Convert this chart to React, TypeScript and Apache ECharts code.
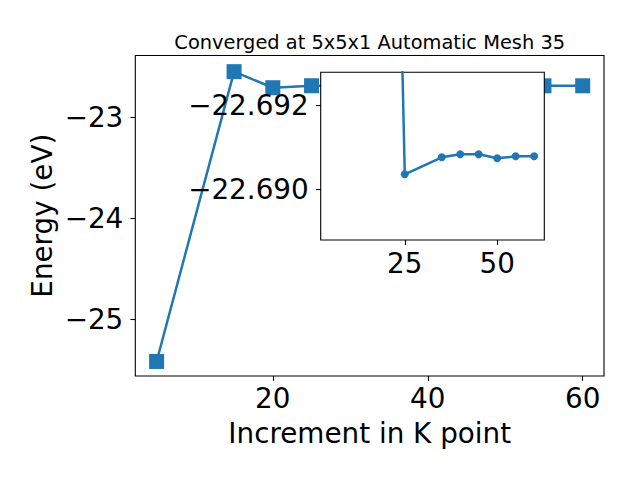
import React, { useEffect, useRef } from "react";
import * as echarts from "echarts";

// K-point increments and total energies (eV)
const kPoints = [5, 15, 20, 25, 35, 40, 45, 50, 55, 60];
const energies = [
  -25.42, -22.551, -22.71, -22.690356, -22.690759, -22.69083, -22.69083,
  -22.690735, -22.690783, -22.690783,
];
// inset shows the converged tail (from 20 on)
const insetStart = 2;

const mainXTicks = [20, 40, 60];
const mainYTicks = [-25, -24, -23];
const insetXTicks = [25, 50];
const insetYTicks = [-22.692, -22.69];

const titleText = "Converged at 5x5x1 Automatic Mesh 35";
const xName = "Increment in K point";
const yName = "Energy (eV)";

const BLUE = "#1f77b4";
const FONT = "DejaVu Sans";

const minus = (s: string) => s.replace("-", "\u2212");

export default function App() {
  const ref = useRef<HTMLDivElement>(null);
  useEffect(() => {
    if (!ref.current) return;
    const chart = echarts.init(ref.current, null, { renderer: "svg" });
    const mainData = kPoints.map((x, i) => [x, energies[i]]);
    const insetData = kPoints
      .slice(insetStart)
      .map((x, i) => [x, energies[i + insetStart]]);
    const tickStyle = { color: "#000", width: 1.1 };
    const labelBase = {
      color: "#000",
      fontFamily: FONT,
      fontSize: 27.8,
    };
    chart.setOption({
      animation: false,
      backgroundColor: "#fff",
      grid: [
        {
          left: 135.3,
          top: 55.5,
          width: 468.7,
          height: 320.5,
          show: true,
          borderColor: "#000",
          borderWidth: 1.1,
          backgroundColor: "#fff",
          z: 0,
        },
        {
          left: 320.7,
          top: 72.3,
          width: 223.6,
          height: 167.7,
          show: true,
          borderColor: "#000",
          borderWidth: 1.1,
          backgroundColor: "#fff",
          z: 3,
        },
      ],
      xAxis: [
        {
          type: "value",
          gridIndex: 0,
          min: 2.25,
          max: 62.75,
          axisLine: { show: false },
          splitLine: { show: false },
          axisTick: {
            show: true,
            length: 4.9,
            lineStyle: tickStyle,
            customValues: mainXTicks,
          },
          axisLabel: {
            ...labelBase,
            margin: 8,
            customValues: mainXTicks,
            formatter: (v: number) => minus(String(Math.round(v))),
          },
          z: 1,
        },
        {
          type: "value",
          gridIndex: 1,
          min: 2.25,
          max: 62.75,
          axisLine: { show: false },
          splitLine: { show: false },
          axisTick: {
            show: true,
            length: 4.9,
            lineStyle: tickStyle,
            customValues: insetXTicks,
          },
          axisLabel: {
            ...labelBase,
            margin: 9,
            customValues: insetXTicks,
            formatter: (v: number) => minus(String(Math.round(v))),
          },
          z: 4,
        },
      ],
      yAxis: [
        {
          type: "value",
          gridIndex: 0,
          min: -25.564,
          max: -22.391,
          axisLine: { show: false },
          splitLine: { show: false },
          axisTick: {
            show: true,
            length: 4.9,
            lineStyle: tickStyle,
            customValues: mainYTicks,
          },
          axisLabel: {
            ...labelBase,
            margin: 12,
            customValues: mainYTicks,
            formatter: (v: number) => minus(String(Math.round(v))),
          },
          z: 1,
        },
        {
          type: "value",
          gridIndex: 1,
          inverse: true,
          min: -22.692776,
          max: -22.688797,
          axisLine: { show: false },
          splitLine: { show: false },
          axisTick: {
            show: true,
            length: 4.9,
            lineStyle: tickStyle,
            customValues: insetYTicks,
          },
          axisLabel: {
            ...labelBase,
            margin: 12,
            customValues: insetYTicks,
            formatter: (v: number) => minus(v.toFixed(3)),
          },
          z: 4,
        },
      ],
      series: [
        {
          type: "line",
          xAxisIndex: 0,
          yAxisIndex: 0,
          data: mainData,
          symbol: "rect",
          symbolSize: 15,
          showSymbol: true,
          itemStyle: { color: BLUE },
          lineStyle: { color: BLUE, width: 2.5 },
          z: 2,
          clip: true,
        },
        {
          type: "line",
          xAxisIndex: 1,
          yAxisIndex: 1,
          data: insetData,
          symbol: "circle",
          symbolSize: 8,
          showSymbol: true,
          itemStyle: { color: BLUE },
          lineStyle: { color: BLUE, width: 2.5 },
          z: 5,
          clip: true,
        },
      ],
      graphic: [
        {
          type: "text",
          x: 369.7,
          y: 42.7,
          z: 10,
          style: {
            text: titleText,
            fill: "#000",
            font: `19.4px "${FONT}"`,
            align: "center",
            verticalAlign: "middle",
            textAlign: "center",
            textVerticalAlign: "middle",
          },
        },
        {
          type: "text",
          x: 369.7,
          y: 433.7,
          z: 10,
          style: {
            text: xName,
            fill: "#000",
            font: `27.8px "${FONT}"`,
            align: "center",
            verticalAlign: "middle",
            textAlign: "center",
            textVerticalAlign: "middle",
          },
        },
        {
          type: "text",
          x: 42.7,
          y: 215.7,
          rotation: Math.PI / 2,
          z: 10,
          style: {
            text: yName,
            fill: "#000",
            font: `27.8px "${FONT}"`,
            align: "center",
            verticalAlign: "middle",
            textAlign: "center",
            textVerticalAlign: "middle",
          },
        },
      ],
    });
    return () => chart.dispose();
  }, []);
  return (
    <div
      ref={ref}
      style={{ position: "fixed", left: 0, top: 0, width: 640, height: 480 }}
    />
  );
}
